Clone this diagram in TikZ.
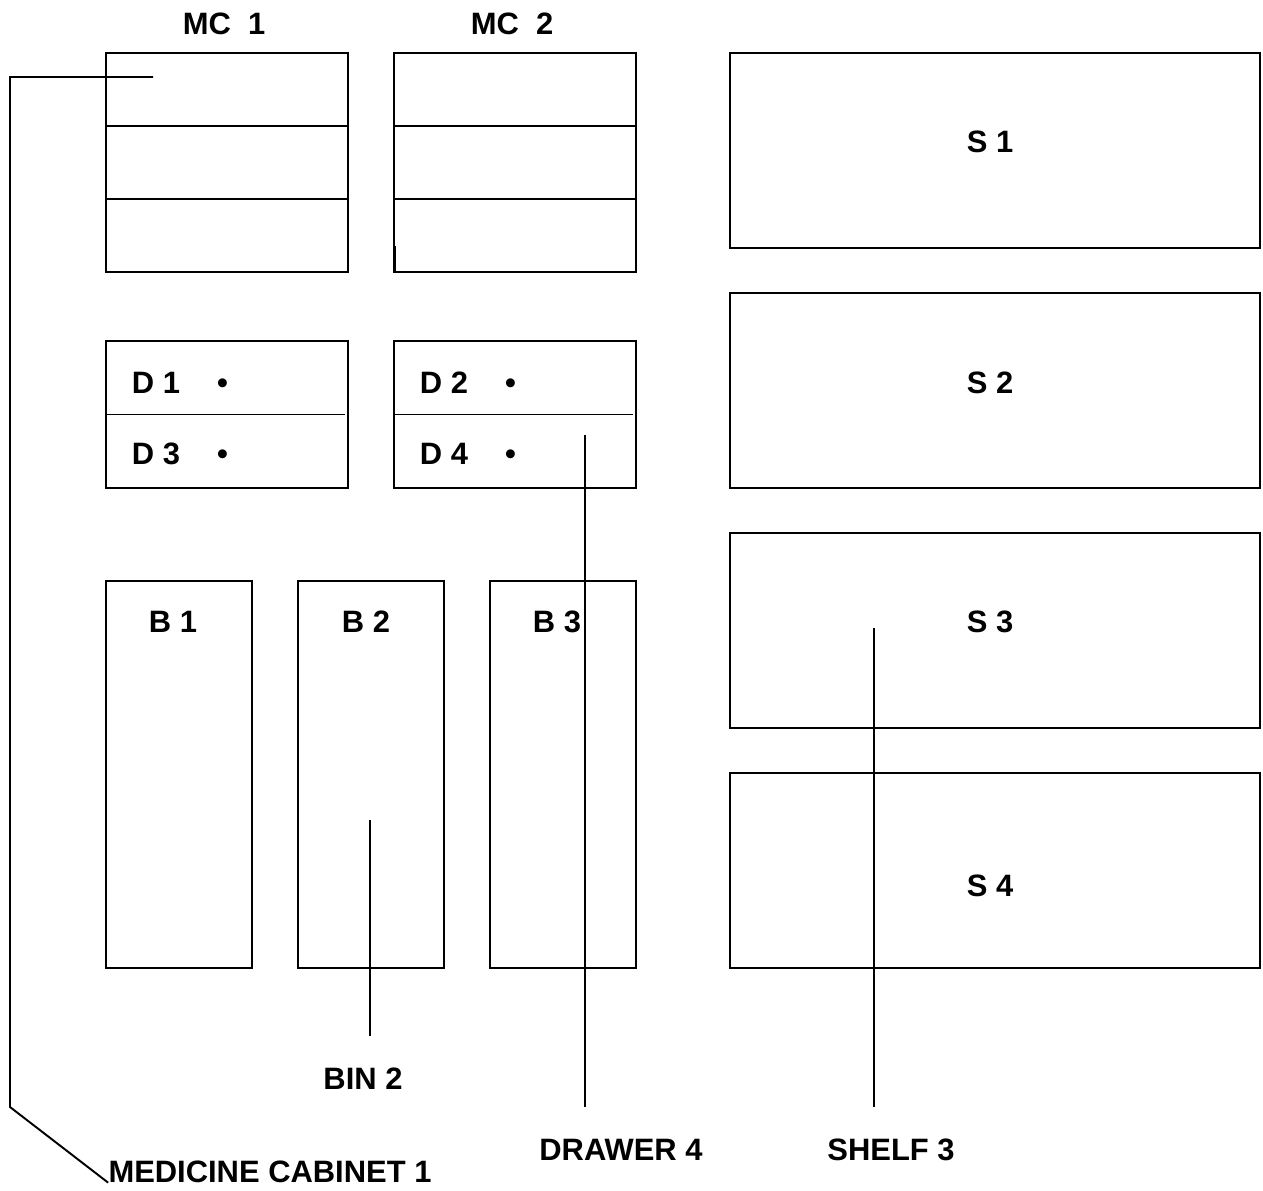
\documentclass[tikz,border=0pt]{standalone}
\usepackage{fontspec}
\setmainfont{Liberation Sans}
\usetikzlibrary{calc}

\begin{document}
\begin{tikzpicture}[
  x=0.02cm, y=-0.02cm,
  every node/.style={font=\bfseries\fontsize{17.6}{20}\selectfont},
  box/.style={draw,line width=1.1pt,inner sep=0pt},
  cabinet/.style={box,minimum width=4.84cm,minimum height=4.38cm},
  drawers/.style={box,minimum width=4.84cm,minimum height=2.94cm},
  bin/.style={box,minimum width=2.92cm,minimum height=7.74cm},
  shelf/.style={box,minimum width=10.6cm,minimum height=3.9cm},
  tag/.style={inner sep=0pt},
  lead/.style={line width=1.1pt},
  tolabel/.style={lead,shorten >=18pt}]

  \fill[white] (0,0) rectangle (1263,1190);
  \useasboundingbox (0,0) rectangle (1263,1190);

  % Cabinets, drawers, bins and shelves
  \node[cabinet] (MC1) at (227,162.5) {};
  \node[cabinet] (MC2) at (515,162.5) {};
  \node[drawers] (DR1) at (227,414.5) {};
  \node[drawers] (DR2) at (515,414.5) {};
  \node[bin] (B1) at (179,774.5) {};
  \node[bin] (B2) at (371,774.5) {};
  \node[bin] (B3) at (563,774.5) {};
  \node[shelf] (S1) at (995,150.5) {};
  \node[shelf] (S2) at (995,390.5) {};
  \node[shelf] (S3) at (995,630.5) {};
  \node[shelf] (S4) at (995,870.5) {};

  % Divide the cabinets and the drawer units
  \foreach \m in {MC1,MC2}
    \foreach \f in {1/3,2/3}
      \draw[lead] ($(\m.north west)!\f!(\m.south west)$) -- ($(\m.north east)!\f!(\m.south east)+(-2,0)$);
  \foreach \m in {DR1,DR2}
    \draw[lead] (\m.west) -- ([xshift=-2]\m.east);
  \draw[line width=1.8pt] ([xshift=1pt]MC2.south west) -- ++(0,-27);

  % Texts
  \node[tag] (mc1lbl) at (224,24) {MC\ \ 1};
  \node[tag] (mc2lbl) at (512,24) {MC\ \ 2};
  \node[tag] (d1) at (180,383) {D 1\hspace{1.2em}•};
  \node[tag] (d3) at (180,454) {D 3\hspace{1.2em}•};
  \node[tag] (d2) at (468,383) {D 2\hspace{1.2em}•};
  \node[tag] (d4) at (468,454) {D 4\hspace{1.2em}•};
  \node[tag] (b1lbl) at (173,622) {B 1};
  \node[tag] (b2lbl) at (366,622) {B 2};
  \node[tag] (b3lbl) at (557,622) {B 3};
  \node[tag] (s1lbl) at (990,142) {S 1};
  \node[tag] (s2lbl) at (990,383) {S 2};
  \node[tag] (s3lbl) at (990,622) {S 3};
  \node[tag] (s4lbl) at (990,886) {S 4};

  % Call-outs
  \node[tag] (medcab) at (270,1172) {MEDICINE CABINET 1};
  \node[tag] (bin2lbl) at (363,1079) {BIN 2};
  \node[tag] (drw4lbl) at (621,1150) {DRAWER 4};
  \node[tag] (shf3lbl) at (891,1150) {SHELF 3};

  \coordinate (mc1tip) at (153,77);
  \coordinate (bend) at (10,1107);
  \coordinate (bin2tip) at (370,820);
  \coordinate (drw4tip) at (585,435);
  \coordinate (shf3tip) at (874,628);

  \draw[lead] (mc1tip) -| (bend) -- (medcab.base west);
  \draw[tolabel] (bin2tip) -- (bin2tip |- bin2lbl.north);
  \draw[tolabel] (drw4tip) -- (drw4tip |- drw4lbl.north);
  \draw[tolabel] (shf3tip) -- (shf3tip |- shf3lbl.north);
\end{tikzpicture}
\end{document}
